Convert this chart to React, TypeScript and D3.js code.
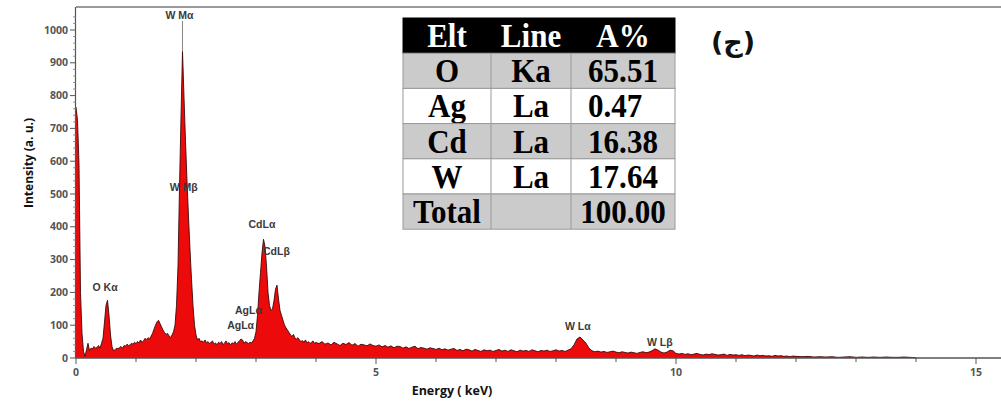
import React from "react";
import * as d3 from "d3";

// ---------- data ----------
// spectrum 0–4 keV, step 0.025 keV
const countsLow: number[] = [
  765, 725, 590, 200, 75, 20, 5, 25, 45, 22,
  30, 28, 35, 30, 32, 38, 30, 45, 60, 110,
  160, 176, 130, 70, 35, 22, 25, 30, 28, 32,
  35, 30, 38, 36, 42, 38, 40, 45, 42, 48,
  44, 50, 46, 55, 48, 52, 60, 56, 62, 58,
  66, 75, 88, 100, 110, 115, 105, 95, 85, 78,
  72, 75, 68, 62, 70, 80, 100, 160, 280, 520,
  735, 935, 795, 660, 540, 430, 330, 240, 160, 100,
  70, 55, 60, 50, 52, 48, 55, 46, 50, 44,
  48, 52, 42, 46, 40, 48, 44, 50, 41, 45,
  52, 43, 47, 40, 46, 44, 50, 42, 48, 52,
  58, 55, 45, 50, 47, 44, 48, 46, 52, 60,
  80, 130, 200, 260, 320, 362, 340, 280, 200, 160,
  145, 150, 175, 210, 222, 180, 145, 130, 115, 100,
  92, 85, 78, 70, 66, 72, 60, 58, 62, 55,
  50, 53, 48, 55, 46, 50, 44, 48, 52, 45,
  47,
];
// spectrum 4.05–12 keV, step 0.05 keV
const countsMid: number[] = [
  44, 50, 42, 46, 40, 48, 43, 38, 45, 41, 47, 39, 44, 36, 42, 40, 37, 43, 38, 36,
  40, 34, 38, 33, 37, 31, 36, 35, 30, 34, 29, 33, 36, 28, 32, 30, 27, 31, 29, 26,
  30, 25, 28, 24, 27, 29, 23, 26, 22, 27, 25, 21, 26, 23, 20, 25, 22, 24, 20, 23,
  26, 21, 24, 20, 25, 22, 19, 24, 21, 23, 20, 25, 22, 19, 23, 21, 24, 20, 22, 25,
  21, 23, 20, 24, 28, 40, 58, 64, 55, 45, 30, 22, 19, 21, 18, 20, 17, 19, 21, 18,
  16, 19, 17, 15, 18, 16, 14, 17, 19, 16, 18, 22, 28, 24, 18, 15, 18, 24, 22, 14,
  12, 14, 11, 13, 10, 12, 14, 11, 9, 12, 10, 13, 11, 9, 10, 12, 8, 11, 9, 10,
  8, 10, 7, 9, 8, 6, 9, 7, 8, 6, 7, 5, 8, 6, 7, 5, 6, 4, 6, 5,
];
// spectrum 12.1–14 keV, step 0.1 keV
const countsTail: number[] = [4, 5, 3, 4, 3, 4, 2, 3, 4, 2, 3, 2, 3, 2, 3, 2, 2, 3, 2, 1];

const yTicks = [0, 100, 200, 300, 400, 500, 600, 700, 800, 900, 1000];
const xTickLabels = [0, 5, 10, 15];
const xMinorTicks = [1, 2, 3, 4, 6, 7, 8, 9, 11, 12, 13, 14];

const peakLabels = ["W M\u03b1", "W M\u03b2", "O K\u03b1", "CdL\u03b1", "CdL\u03b2", "AgL\u03b1", "AgL\u03b1", "W L\u03b1", "W L\u03b2"];
const peakEnergies = [1.775, 1.78, 0.525, 3.125, 3.35, 2.85, 2.72, 8.4, 9.75];
const peakLabelLevels = [1035, 510, 205, 395, 315, 135, 88, 85, 38];

const tableHeader = ["Elt", "Line", "A%"];
const tableElements = ["O", "Ag", "Cd", "W", "Total"];
const tableLines = ["Ka", "La", "La", "La", ""];
const tablePercents = ["65.51", "0.47", "16.38", "17.64", "100.00"];

// ---------- build series ----------
type Pt = { e: number; v: number };
const spectrum: Pt[] = [
  ...countsLow.map((v, i) => ({ e: i * 0.025, v })),
  ...countsMid.map((v, i) => ({ e: 4.05 + i * 0.05, v })),
  ...countsTail.map((v, i) => ({ e: 12.1 + i * 0.1, v })),
];

export default function App() {
  const W = 1001;
  const H = 401;
  const x = d3.scaleLinear().domain([0, 15]).range([76, 976]);
  const y = d3.scaleLinear().domain([0, 1000]).range([358, 30]);

  const area = d3
    .area<Pt>()
    .x((d) => x(d.e))
    .y0(y(0))
    .y1((d) => y(d.v));
  const line = d3
    .line<Pt>()
    .x((d) => x(d.e))
    .y((d) => y(d.v));

  const minorY = d3.range(0, 1060, 20).filter((v) => v % 100 !== 0);

  // table geometry
  const colX = [403, 491, 571, 675];
  const tTop = 18;
  const rowH = 35.2;
  const rowFills = ["#000", "#cbcbcb", "#fff", "#cbcbcb", "#fff", "#cbcbcb"];
  const tableRows = [tableHeader, ...tableElements.map((el, i) => [el, tableLines[i], tablePercents[i]])];

  const labelOffsets = [-17, -13, -15, -15, -14, -12, -12, -15, -14];

  return (
    <svg
      width={W}
      height={H}
      style={{ position: "absolute", left: 0, top: 0, background: "#fff" }}
      fontFamily="'Open Sans', sans-serif"
    >
      {/* top frame */}
      <line x1={76} x2={W} y1={7} y2={7} stroke="#9a9a9a" strokeWidth={2} />
      {/* spectrum */}
      <path d={area(spectrum) || ""} fill="#ec0a0a" />
      <path d={line(spectrum) || ""} fill="none" stroke="#3b0b0b" strokeWidth={0.9} />
      {/* W Ma marker line */}
      <line x1={x(1.775)} x2={x(1.775)} y1={21} y2={y(935)} stroke="#888" strokeWidth={1} />

      {/* x axis */}
      <line x1={76} x2={W} y1={358} y2={358} stroke="#555" strokeWidth={1.5} />
      {xTickLabels.map((t) => (
        <g key={"xt" + t}>
          <line x1={x(t)} x2={x(t)} y1={358} y2={364} stroke="#555" />
          <text x={x(t)} y={376} textAnchor="middle" fontSize={10.5} fontWeight={700} fill="#555">
            {t}
          </text>
        </g>
      ))}
      {xMinorTicks.map((t) => (
        <line key={"xm" + t} x1={x(t)} x2={x(t)} y1={358} y2={362} stroke="#555" />
      ))}

      {/* y axis */}
      <line x1={75.5} x2={75.5} y1={7} y2={358} stroke="#555" strokeWidth={1.2} />
      {minorY.map((t) => (
        <line key={"ym" + t} x1={73} x2={76} y1={y(t)} y2={y(t)} stroke="#777" strokeWidth={0.8} />
      ))}
      {yTicks.map((t) => (
        <g key={"yt" + t}>
          <line x1={70} x2={76} y1={y(t)} y2={y(t)} stroke="#555" />
          <text x={68} y={y(t)} dy="0.35em" textAnchor="end" fontSize={10.5} fontWeight={700} fill="#555">
            {t}
          </text>
        </g>
      ))}

      {/* axis titles */}
      <text
        transform={`translate(33,163) rotate(-90)`}
        textAnchor="middle"
        fontSize={12}
        fontWeight={700}
        fill="#111"
      >
        Intensity (a. u.)
      </text>
      <text x={452} y={395} textAnchor="middle" fontSize={12.5} fontWeight={700} fill="#111">
        Energy ( keV)
      </text>

      {/* peak labels */}
      {peakLabels.map((lab, i) => (
        <text
          key={"pl" + i}
          x={x(peakEnergies[i]) + labelOffsets[i]}
          y={y(peakLabelLevels[i])}
          fontSize={10.5}
          fontFamily="'Liberation Sans', Arial, sans-serif"
          fontWeight={600}
          fill="#3a3a3a"
        >
          {lab}
        </text>
      ))}

      {/* table */}
      <g fontFamily="'Liberation Serif', 'Times New Roman', serif" fontWeight={700}>
        {tableRows.map((row, r) => (
          <g key={"row" + r}>
            <rect
              x={colX[0]}
              y={tTop + r * rowH}
              width={colX[3] - colX[0]}
              height={rowH}
              fill={rowFills[r]}
              stroke={r === 0 ? "#000" : "#9a9a9a"}
              strokeWidth={1}
            />
            {row.map((cell, c) => {
              const special = c === 2 && cell === "0.47";
              const cx = special ? 588 : (colX[c] + colX[c + 1]) / 2;
              const cy = tTop + r * rowH + rowH / 2;
              return (
                <text
                  key={"c" + c}
                  transform={`translate(${cx},${cy}) scale(1.07,1.16)`}
                  textAnchor={special ? "start" : "middle"}
                  dominantBaseline="central"
                  fontSize={29}
                  fill={r === 0 ? "#fff" : "#000"}
                >
                  {cell}
                </text>
              );
            })}
          </g>
        ))}
        {[1, 2].map((c) => (
          <line
            key={"cl" + c}
            x1={colX[c]}
            x2={colX[c]}
            y1={tTop + rowH}
            y2={tTop + 6 * rowH}
            stroke="#9a9a9a"
            strokeWidth={1}
          />
        ))}
      </g>

      {/* panel letter */}
      <text
        x={733}
        y={41}
        textAnchor="middle"
        dominantBaseline="central"
        fontSize={27}
        fontWeight={700}
        fontFamily="'DejaVu Sans', sans-serif"
        fill="#111"
      >
        (ج)
      </text>
    </svg>
  );
}
